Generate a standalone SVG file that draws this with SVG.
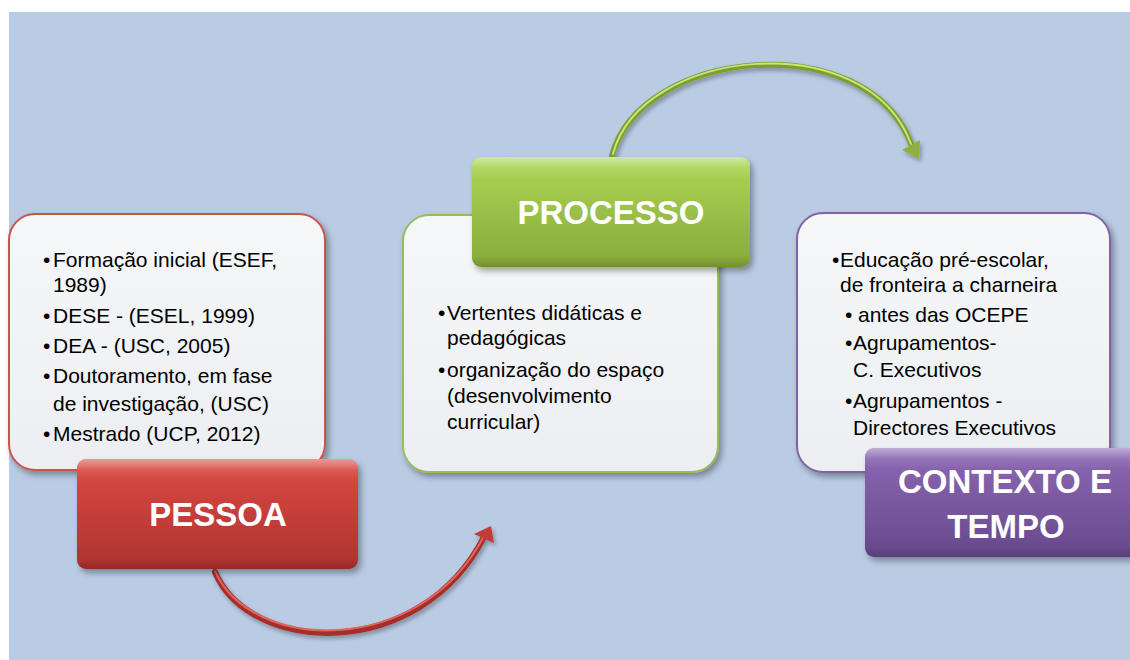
<svg xmlns="http://www.w3.org/2000/svg" width="1130" height="660" viewBox="0 0 1130 660">
<defs>
<style>
.body{font-family:"Liberation Sans",Arial,sans-serif;font-size:21px;fill:#000}
.lbl{font-family:"Liberation Sans",Arial,sans-serif;font-size:33px;font-weight:bold;fill:#fff;text-anchor:middle}
.card{fill:url(#cardG);stroke-width:2}
</style>
<linearGradient id="cardG" x1="0" y1="0" x2="0" y2="1">
<stop offset="0" stop-color="#f6f7f9"/><stop offset="1" stop-color="#eceef1"/>
</linearGradient>
<linearGradient id="redG" x1="0" y1="0" x2="0" y2="1">
<stop offset="0" stop-color="#dc4a45"/><stop offset="1" stop-color="#ae322e"/>
</linearGradient>
<linearGradient id="greenG" x1="0" y1="0" x2="0" y2="1">
<stop offset="0" stop-color="#aed655"/><stop offset="1" stop-color="#88a93b"/>
</linearGradient>
<linearGradient id="purpleG" x1="0" y1="0" x2="0" y2="1">
<stop offset="0" stop-color="#8d68b4"/><stop offset="1" stop-color="#67488c"/>
</linearGradient>
<linearGradient id="shine" x1="0" y1="0" x2="0" y2="1">
<stop offset="0" stop-color="#fff" stop-opacity="0.45"/><stop offset="0.1" stop-color="#fff" stop-opacity="0.1"/><stop offset="0.2" stop-color="#fff" stop-opacity="0"/>
<stop offset="0.9" stop-color="#000" stop-opacity="0"/><stop offset="1" stop-color="#000" stop-opacity="0.15"/>
</linearGradient>
<filter id="sh" x="-10%" y="-10%" width="130%" height="140%">
<feDropShadow dx="3" dy="4" stdDeviation="3" flood-color="#000" flood-opacity="0.35"/>
</filter>
<filter id="ash" x="-10%" y="-20%" width="130%" height="150%">
<feDropShadow dx="2" dy="3" stdDeviation="2" flood-color="#000" flood-opacity="0.3"/>
</filter>
</defs>
<rect width="1130" height="660" fill="#fff"/>
<rect x="9" y="12" width="1121" height="648" fill="#b9cce4"/>

<g id="connectors">
<g filter="url(#ash)">
<path d="M215,572 C250,655 420,662 484,537" fill="none" stroke="#a52e2a" stroke-width="6" stroke-linecap="round"/>
<path d="M215,571 C250,652 420,659 484,536" fill="none" stroke="#e06560" stroke-width="2" stroke-linecap="round"/>
<polygon points="491,526 474,534 494,543" fill="#c13b37"/>
</g>
<g filter="url(#ash)">
<path d="M612,156 C640,48 868,25 912,146" fill="none" stroke="#7f9e32" stroke-width="6" stroke-linecap="round"/>
<path d="M613,154 C641,47 867,24 911,144" fill="none" stroke="#c6e774" stroke-width="2" stroke-linecap="round"/>
<polygon points="920,140 919,159 902,150" fill="#8fb03f"/>
</g>
</g>

<g id="pessoa">
<rect class="card" x="9" y="214" width="316" height="256" rx="26" stroke="#c65450" filter="url(#sh)"/>
<text class="body"><tspan x="43" y="267">•</tspan><tspan x="53" y="267">Formação inicial (ESEF,</tspan><tspan x="53" y="292">1989)</tspan><tspan x="43" y="323">•</tspan><tspan x="53" y="323">DESE - (ESEL, 1999)</tspan><tspan x="43" y="353">•</tspan><tspan x="53" y="353">DEA - (USC, 2005)</tspan><tspan x="43" y="383">•</tspan><tspan x="53" y="383">Doutoramento, em fase</tspan><tspan x="53" y="411">de investigação, (USC)</tspan><tspan x="43" y="441">•</tspan><tspan x="53" y="441">Mestrado (UCP, 2012)</tspan></text>
<rect x="77" y="459" width="281" height="110" rx="9" fill="url(#redG)" filter="url(#sh)"/>
<rect x="77" y="459" width="281" height="110" rx="9" fill="url(#shine)"/>
<text class="lbl" x="218" y="526">PESSOA</text>
</g>

<g id="processo">
<rect class="card" x="403" y="215" width="315" height="257" rx="26" stroke="#9bbb59" filter="url(#sh)"/>
<text class="body"><tspan x="438" y="320">•</tspan><tspan x="447" y="320">Vertentes didáticas e</tspan><tspan x="447" y="345">pedagógicas</tspan><tspan x="438" y="377">•</tspan><tspan x="447" y="377">organização do espaço</tspan><tspan x="447" y="403">(desenvolvimento</tspan><tspan x="447" y="429">curricular)</tspan></text>
<rect x="472" y="157" width="278" height="110" rx="9" fill="url(#greenG)" filter="url(#sh)"/>
<rect x="472" y="157" width="278" height="110" rx="9" fill="url(#shine)"/>
<text class="lbl" x="611" y="224">PROCESSO</text>
</g>

<g id="contexto">
<rect class="card" x="797" y="213" width="313" height="259" rx="26" stroke="#8064a2" filter="url(#sh)"/>
<text class="body"><tspan x="832" y="267">•</tspan><tspan x="840" y="267">Educação pré-escolar,</tspan><tspan x="840" y="292">de fronteira a charneira</tspan><tspan x="845" y="322">•</tspan><tspan x="858" y="322">antes das OCEPE</tspan><tspan x="845" y="350">•</tspan><tspan x="853" y="350">Agrupamentos-</tspan><tspan x="853" y="377">C. Executivos</tspan><tspan x="845" y="408">•</tspan><tspan x="853" y="408">Agrupamentos -</tspan><tspan x="853" y="435">Directores Executivos</tspan></text>
<rect x="865" y="448" width="280" height="109" rx="9" fill="url(#purpleG)" filter="url(#sh)"/>
<rect x="865" y="448" width="280" height="109" rx="9" fill="url(#shine)"/>
<text class="lbl"><tspan x="1005" y="493">CONTEXTO E</tspan><tspan x="1006" y="538">TEMPO</tspan></text>
</g>
</svg>
